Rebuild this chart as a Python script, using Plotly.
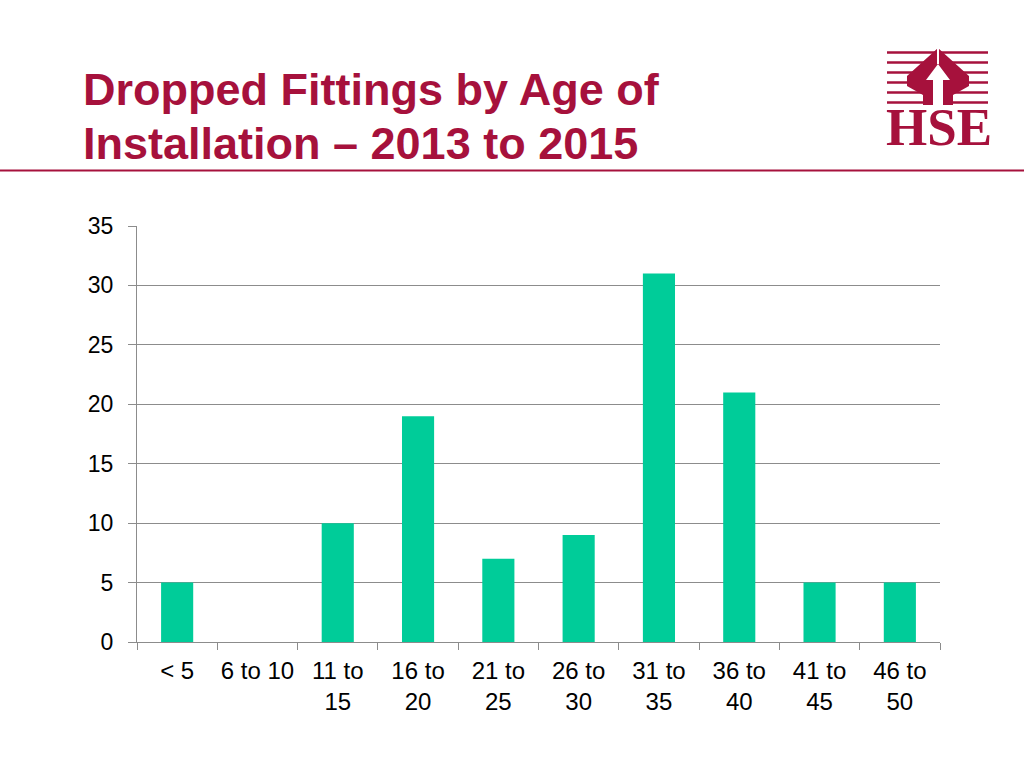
import plotly.graph_objects as go

categories = ["< 5", "6 to 10", "11 to<br>15", "16 to<br>20", "21 to<br>25",
              "26 to<br>30", "31 to<br>35", "36 to<br>40", "41 to<br>45", "46 to<br>50"]
values = [5, 0, 10, 19, 7, 9, 31, 21, 5, 5]
y_ticks = [0, 5, 10, 15, 20, 25, 30, 35]

title_line1 = "Dropped Fittings by Age of"
title_line2 = "Installation \u2013 2013 to 2015"

W, H = 1024, 768
L, R, T, B = 137, 940, 226, 642  # plot area in page pixels
CRIMSON = "#A6113C"
GRAY = "#8C8C8C"


def px(x):
    return (x - L) / (R - L)


def py(y):
    return (B - y) / (B - T)


def path(points):
    return "M " + " L ".join(f"{px(x):.5f},{py(y):.5f}" for x, y in points) + " Z"


fig = go.Figure(go.Bar(x=categories, y=values, marker_color="#00CC99",
                       marker_line_width=0, hoverinfo="x+y"))

shapes = []
# header rule
shapes.append(dict(type="line", xref="paper", yref="paper", x0=px(0), x1=px(W),
                   y0=py(170.5), y1=py(170.5), line=dict(color=CRIMSON, width=2)))
# logo stripes
for yy in [52.5, 62.5, 72.5, 82.5, 92.5, 102.5]:
    shapes.append(dict(type="line", xref="paper", yref="paper", x0=px(887), x1=px(988),
                       y0=py(yy), y1=py(yy), line=dict(color=CRIMSON, width=2.5)))
# logo house shape
shapes.append(dict(type="path", xref="paper", yref="paper",
                   path=path([(938, 48), (969, 76), (969, 86), (953, 95), (953, 105),
                              (923, 105), (923, 95), (907, 86), (907, 76)]),
                   fillcolor=CRIMSON, line=dict(width=0)))
# white arrow
shapes.append(dict(type="path", xref="paper", yref="paper",
                   path=path([(938, 64), (950, 80), (943, 80), (943, 105),
                              (933, 105), (933, 80), (926, 80)]),
                   fillcolor="white", line=dict(width=0)))
shapes.append(dict(type="line", xref="paper", yref="paper", x0=px(938), x1=px(938),
                   y0=py(48), y1=py(64), line=dict(color="white", width=2)))

annotations = [
    dict(text="<b>" + title_line1 + "</b>", xref="paper", yref="paper", x=px(81), y=py(117),
         xanchor="left", yanchor="bottom", showarrow=False,
         font=dict(family="Liberation Sans, Arial", size=45, color=CRIMSON)),
    dict(text="<b>" + title_line2 + "</b>", xref="paper", yref="paper", x=px(81), y=py(171),
         xanchor="left", yanchor="bottom", showarrow=False,
         font=dict(family="Liberation Sans, Arial", size=45, color=CRIMSON)),
    dict(text="<b>HSE</b>", xref="paper", yref="paper", x=px(938.5), y=py(158),
         xanchor="center", yanchor="bottom", showarrow=False,
         font=dict(family="Liberation Serif, Times New Roman", size=53, color=CRIMSON)),
]

fig.update_layout(
    width=W, height=H,
    margin=dict(l=L, r=W - R, t=T, b=H - B, autoexpand=False),
    paper_bgcolor="white", plot_bgcolor="white",
    bargap=0.6,
    showlegend=False,
    shapes=shapes,
    annotations=annotations,
    font=dict(family="Liberation Sans, Arial", color="black"),
)
fig.update_xaxes(
    type="category", tickson="boundaries", ticks="outside", ticklen=7,
    tickcolor=GRAY, showline=True, linecolor=GRAY, linewidth=1,
    showgrid=False, tickfont=dict(size=24, color="black"), ticklabelstandoff=7,
    tickangle=0,
)
fig.update_yaxes(
    range=[0, 35], tickvals=y_ticks, ticks="outside", ticklen=8, tickcolor=GRAY,
    showline=True, linecolor=GRAY, linewidth=1, showgrid=True, gridcolor=GRAY,
    gridwidth=1, zeroline=False, tickfont=dict(size=23, color="black"),
    ticklabelstandoff=10,
)

fig.write_html("out.html", config={"displayModeBar": False},
               post_script="document.body.style.margin='0';document.body.style.overflow='hidden';")
